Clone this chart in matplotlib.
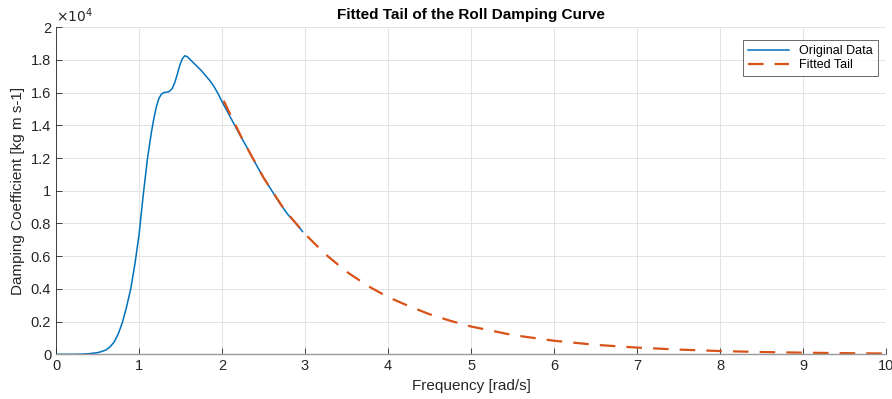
import matplotlib
matplotlib.use("Agg")
import matplotlib.pyplot as plt
import numpy as np

plt.rcParams["font.family"] = ["Liberation Sans", "DejaVu Sans"]

# original damping data
freq = [0.0, 0.2, 0.3, 0.4, 0.5, 0.55, 0.6, 0.65, 0.7, 0.75, 0.8, 0.85, 0.9,
        0.95, 1.0, 1.05, 1.1, 1.15, 1.18, 1.21, 1.24, 1.27, 1.3, 1.33, 1.36,
        1.4, 1.43, 1.46, 1.49, 1.52, 1.55, 1.58, 1.61, 1.65, 1.7, 1.75, 1.8,
        1.85, 1.9, 1.95, 2.0, 2.1, 2.2, 2.3, 2.4, 2.5, 2.6, 2.7, 2.8, 2.9,
        2.97]
damping = [0, 2, 10, 40, 100, 170, 260, 450, 750, 1250, 1950, 2900, 4000,
           5500, 7300, 9700, 11900, 13600, 14450, 15150, 15650, 15900, 16000,
           16020, 16050, 16250, 16600, 17100, 17650, 18050, 18250, 18200,
           18050, 17850, 17600, 17350, 17050, 16750, 16400, 15950, 15450,
           14500, 13550, 12650, 11700, 10800, 10000, 9200, 8500, 7950, 7500]

# fitted tail
tail_freq = [2.02, 2.25, 2.5, 2.75, 3.0, 3.25, 3.5, 3.75, 4.0, 4.25, 4.5,
             4.75, 5.0, 5.5, 6.0, 6.5, 7.0, 7.5, 8.0, 8.5, 9.0, 9.5, 10.0]
tail_damping = [15500, 13100, 10800, 8850, 7350, 6100, 5050, 4200, 3500,
                2950, 2450, 2050, 1700, 1180, 830, 580, 410, 290, 200, 140,
                100, 70, 50]

fig = plt.figure(figsize=(8.92, 3.99), dpi=100)
ax = fig.add_axes([0.0628, 0.112, 0.9305, 0.820])

ax.plot(freq, damping, color="#0072BD", lw=1.1, solid_joinstyle="round",
        label="Original Data")
ax.plot(tail_freq, tail_damping, color="#D95319", lw=1.6, ls=(0, (7, 5)),
        label="Fitted Tail")

ax.set_xlim(0, 10)
ax.set_ylim(0, 20000)
ax.set_xticks(np.arange(0, 11, 1))
ax.set_yticks(np.arange(0, 20001, 2000))
ax.set_yticklabels(["0", "0.2", "0.4", "0.6", "0.8", "1", "1.2", "1.4",
                    "1.6", "1.8", "2"])
ax.text(0.0, 1.005, r"$\times10^{4}$", transform=ax.transAxes, fontsize=10,
        ha="left", va="bottom", color="#262626")

ax.grid(True, color="#e3e3e3", lw=0.7)
ax.set_axisbelow(True)
ax.tick_params(direction="in", length=4, width=0.6, colors="#262626",
               labelsize=10.5)
for s in ["top", "right"]:
    ax.spines[s].set_visible(False)
ax.spines["left"].set_color("#262626")
ax.spines["left"].set_linewidth(0.6)
ax.spines["bottom"].set_color("#9a9a9a")
ax.spines["bottom"].set_linewidth(1.0)

ax.set_xlabel("Frequency [rad/s]", fontsize=11, color="#262626", labelpad=4)
ax.set_ylabel("Damping Coefficient [kg m s-1]", fontsize=11, color="#262626",
              labelpad=4)
ax.set_title("Fitted Tail of the Roll Damping Curve", fontsize=11,
             fontweight="bold", pad=6)

leg = ax.legend(loc="upper right", fontsize=9, frameon=True, fancybox=False,
                handlelength=3.3, borderpad=0.4, labelspacing=0.2,
                bbox_to_anchor=(0.998, 0.98))
leg.get_frame().set_edgecolor("#262626")
leg.get_frame().set_linewidth(0.6)

fig.savefig("out.png", dpi=100)
